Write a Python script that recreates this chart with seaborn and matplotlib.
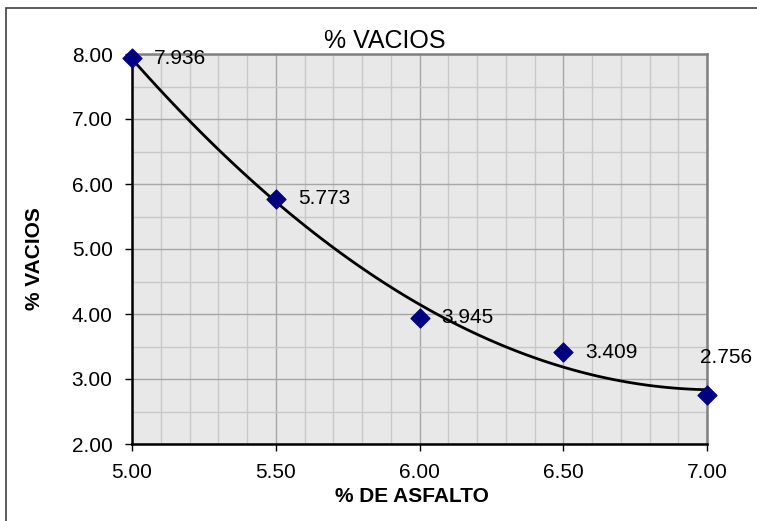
import matplotlib
matplotlib.use("Agg")
import matplotlib.pyplot as plt
import matplotlib.patches as mpatches
from matplotlib.ticker import MultipleLocator, FormatStrFormatter
import seaborn as sns
import pandas as pd

# Datos del ensayo
asfalto = [5.00, 5.50, 6.00, 6.50, 7.00]
vacios = [7.936, 5.773, 3.945, 3.409, 2.756]
etiquetas = ["7.936", "5.773", "3.945", "3.409", "2.756"]

df = pd.DataFrame({"asfalto": asfalto, "vacios": vacios})

sns.set_style("white")
plt.rcParams["font.family"] = ["Liberation Sans", "DejaVu Sans"]
plt.rcParams["text.color"] = "black"
plt.rcParams["xtick.color"] = "black"
plt.rcParams["ytick.color"] = "black"
plt.rcParams["xtick.labelcolor"] = "black"
plt.rcParams["ytick.labelcolor"] = "black"

fig = plt.figure(figsize=(7.57, 5.21), dpi=100)
ax = fig.add_axes([132 / 757, 1 - 444 / 521, (707 - 132) / 757, (444 - 54) / 521])
ax.set_facecolor("#e8e8e8")

# Linea de tendencia polinomica (orden 2)
sns.regplot(data=df, x="asfalto", y="vacios", order=2, ci=None, scatter=False,
            line_kws={"color": "black", "lw": 2}, ax=ax)

# Puntos
sns.scatterplot(data=df, x="asfalto", y="vacios", marker="D", s=95, color="#000080",
                edgecolor="#000080", zorder=5, clip_on=False, ax=ax)

# Etiquetas de datos
for i, (xv, yv, t) in enumerate(zip(asfalto, vacios, etiquetas)):
    if i == len(asfalto) - 1:
        ax.annotate(t, (xv, yv), xytext=(14, 27), textcoords="offset points",
                    ha="center", va="center", fontsize=15, annotation_clip=False)
    else:
        ax.annotate(t, (xv, yv), xytext=(16, 0), textcoords="offset points",
                    ha="left", va="center", fontsize=15, annotation_clip=False)

ax.set_xlim(5, 7)
ax.set_ylim(2, 8)
ax.xaxis.set_major_locator(MultipleLocator(0.5))
ax.xaxis.set_minor_locator(MultipleLocator(0.1))
ax.yaxis.set_major_locator(MultipleLocator(1))
ax.yaxis.set_minor_locator(MultipleLocator(0.5))
ax.xaxis.set_major_formatter(FormatStrFormatter("%.2f"))
ax.yaxis.set_major_formatter(FormatStrFormatter("%.2f"))

ax.grid(True, which="major", color="#a6a6a6", lw=1)
ax.grid(True, which="minor", color="#c8c8c8", lw=1)
ax.set_axisbelow(True)

ax.tick_params(which="major", direction="out", length=5, width=1, color="black",
               labelsize=15, bottom=True, left=True)
ax.tick_params(axis="x", which="major", pad=9)
ax.tick_params(axis="y", which="major", pad=9)
ax.tick_params(which="minor", length=0)

for s in ["left", "bottom"]:
    ax.spines[s].set_color("black")
    ax.spines[s].set_linewidth(1.8)
for s in ["top", "right"]:
    ax.spines[s].set_color("#808080")
    ax.spines[s].set_linewidth(1.8)

ax.set_xlabel("")
ax.set_ylabel("")

fig.text(385 / 757, 1 - 53 / 521, "% VACIOS", ha="center", va="bottom", fontsize=18)
fig.text(412 / 757, 1 - 497 / 521, "% DE ASFALTO", ha="center", va="center",
         fontsize=15, fontweight="bold")
fig.text(34 / 757, 1 - 259 / 521, "% VACIOS", ha="center", va="center",
         rotation=90, fontsize=15, fontweight="bold")

# Borde del grafico
borde = mpatches.Rectangle((5.5 / 757, -0.05), 1.2, 1 - 7.5 / 521 + 0.05,
                           transform=fig.transFigure, fill=False,
                           edgecolor="#404040", lw=1.2)
fig.patches.append(borde)

fig.savefig("out.png", dpi=100)
